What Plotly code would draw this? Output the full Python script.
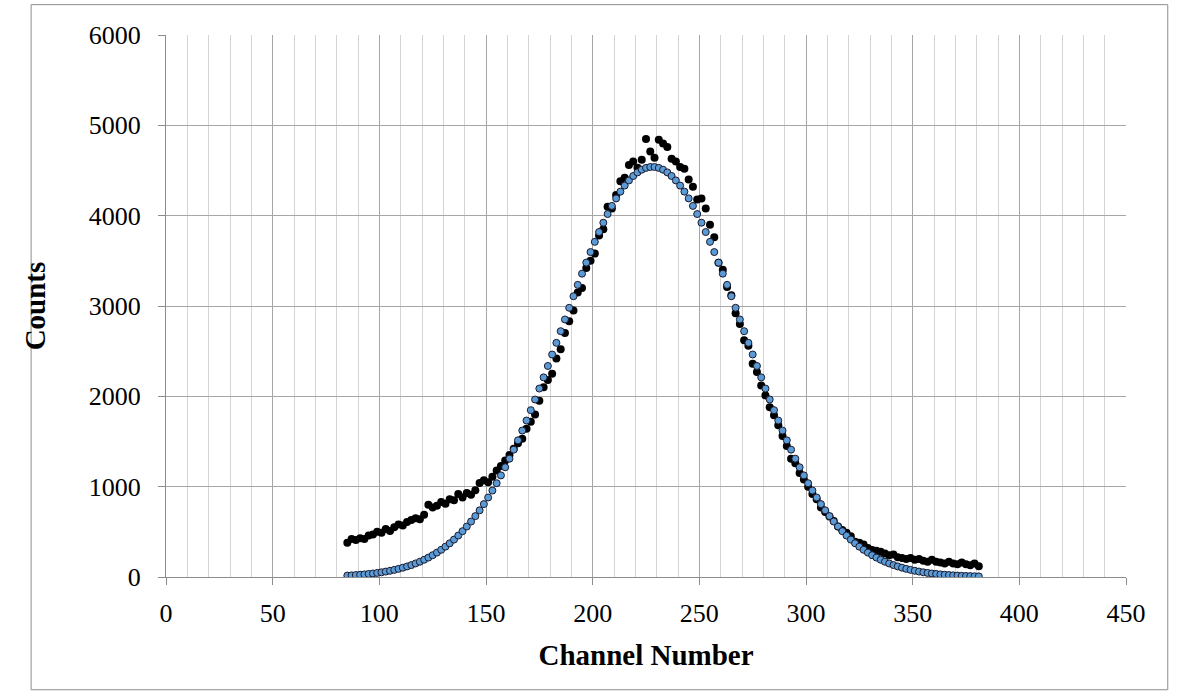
import plotly.graph_objects as go

channels = list(range(85, 382, 2))

counts_measured = [
    380, 420, 410, 430, 420, 460, 470, 500, 490, 530,
    510, 550, 580, 570, 610, 630, 650, 640, 690, 800,
    770, 790, 830, 810, 860, 850, 920, 880, 930, 910,
    960, 1040, 1070, 1050, 1110, 1180, 1230, 1290, 1350, 1420,
    1480, 1530, 1640, 1720, 1800, 1950, 2100, 2180, 2250, 2420,
    2520, 2700, 2830, 2950, 3150, 3200, 3420, 3500, 3580, 3780,
    3850, 4100, 4080, 4230, 4380, 4420, 4560, 4600, 4530, 4620,
    4850, 4710, 4640, 4840, 4800, 4760, 4630, 4600, 4540, 4520,
    4400, 4320, 4180, 4190, 4080, 3900, 3760, 3480, 3400, 3210,
    3120, 2920, 2800, 2620, 2560, 2360, 2270, 2120, 2010, 1880,
    1790, 1680, 1560, 1450, 1310, 1260, 1150, 1080, 1000, 920,
    860, 770, 720, 670, 620, 560, 520, 490, 450, 390,
    380, 360, 320, 300, 290, 280, 260, 240, 250, 220,
    210, 200, 210, 190, 200, 180, 170, 190, 170, 160,
    150, 170, 150, 140, 160, 140, 130, 150, 120,
]

counts_fit = [
    16, 18, 22, 25, 29, 34, 39, 45, 52, 60,
    69, 79, 90, 103, 117, 132, 150, 169, 191, 215,
    241, 270, 301, 336, 373, 414, 459, 507, 559, 614,
    674, 738, 807, 880, 957, 1038, 1125, 1215, 1310, 1410,
    1513, 1621, 1732, 1847, 1965, 2086, 2210, 2336, 2463, 2592,
    2721, 2851, 2980, 3108, 3234, 3358, 3480, 3597, 3710, 3819,
    3922, 4018, 4108, 4191, 4266, 4333, 4390, 4439, 4479, 4509,
    4529, 4539,
    4539, 4529, 4509, 4479, 4439, 4390, 4333, 4266, 4191, 4108,
    4018, 3922, 3819, 3710, 3597, 3480, 3358, 3234, 3108, 2980,
    2851, 2721, 2592, 2463, 2336, 2210, 2086, 1965, 1847, 1732,
    1621, 1513, 1410, 1310, 1215, 1125, 1038, 957, 880, 807,
    738, 674, 614, 559, 507, 459, 414, 373, 336, 301,
    270, 241, 215, 191, 169, 150, 132, 117, 103, 90,
    79, 69, 60, 52, 45, 39, 34, 29, 25, 22,
    18, 16, 13, 11, 10, 8, 7,
]

x_ticks = [0, 50, 100, 150, 200, 250, 300, 350, 400, 450]
y_ticks = [0, 1000, 2000, 3000, 4000, 5000, 6000]

FONT = "Liberation Serif, Times New Roman, serif"

fig = go.Figure()
fig.add_trace(go.Scatter(
    x=channels, y=counts_measured, mode="markers", name="Data",
    marker=dict(color="black", size=8, line=dict(width=0)),
))
fig.add_trace(go.Scatter(
    x=channels, y=counts_fit, mode="markers", name="Fit",
    marker=dict(color="#5b9bd5", size=7, line=dict(color="#1a1a2e", width=1)),
))

fig.update_layout(
    width=1184, height=700,
    margin=dict(l=166, r=58, t=35, b=123),
    paper_bgcolor="white", plot_bgcolor="white",
    showlegend=False,
    font=dict(family=FONT, size=26, color="black"),
    shapes=[dict(type="rect", xref="paper", yref="paper",
                 x0=-0.1405, x1=1.0435, y0=-0.208, y1=1.056,
                 line=dict(color="#8c8c8c", width=1), layer="below")],
)

fig.update_xaxes(
    range=[0, 450], tickvals=x_ticks, ticktext=[str(v) for v in x_ticks],
    showgrid=True, gridcolor="#a6a6a6", gridwidth=1,
    minor=dict(dtick=10, tick0=0, showgrid=True, gridcolor="#d4d4d4", gridwidth=1, ticks=""),
    showline=True, linecolor="#8c8c8c", linewidth=1,
    ticks="outside", ticklen=7, tickcolor="#8c8c8c",
    ticklabelstandoff=6,
    zeroline=False,
    tickfont=dict(family=FONT, size=26),
    title=dict(text="<b>Channel Number</b>", font=dict(family=FONT, size=29), standoff=17),
    automargin=False,
)
fig.update_yaxes(
    range=[0, 6000], tickvals=y_ticks, ticktext=[str(v) for v in y_ticks],
    showgrid=True, gridcolor="#a6a6a6", gridwidth=1,
    showline=True, linecolor="#8c8c8c", linewidth=1,
    ticks="outside", ticklen=7, tickcolor="#8c8c8c",
    ticklabelstandoff=12,
    zeroline=False,
    tickfont=dict(family=FONT, size=26),
    title=dict(text="<b>Counts</b>", font=dict(family=FONT, size=29), standoff=34),
    automargin=False,
)

fig.write_html("out.html")
